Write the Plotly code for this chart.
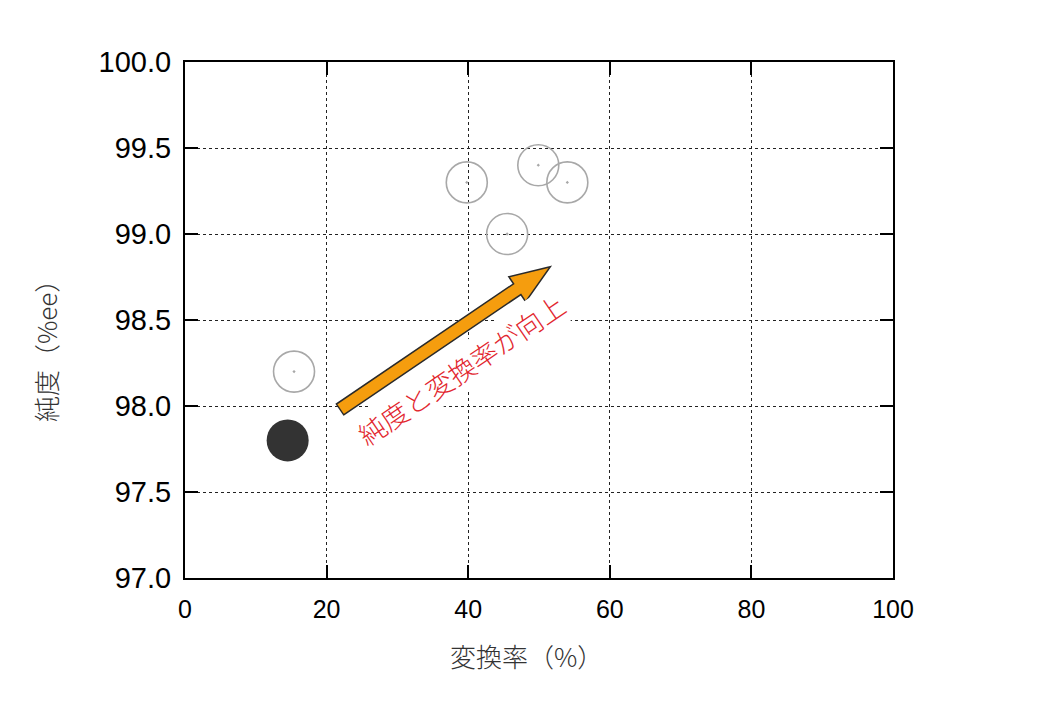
import math
import plotly.graph_objects as go

# ---- data ----
filled_x = [14.5]
filled_y = [97.8]
open_x = [15.4, 39.8, 45.5, 49.9, 54.0]
open_y = [98.2, 99.3, 99.0, 99.4, 99.3]

x_ticks = [0, 20, 40, 60, 80, 100]
y_ticks = [97.0, 97.5, 98.0, 98.5, 99.0, 99.5, 100.0]
y_tick_text = ["97.0", "97.5", "98.0", "98.5", "99.0", "99.5", "100.0"]

x_title = "変換率（%）"
y_title = "純度（%ee）"
note_text = "純度と変換率が向上"
arrow_start = (21.9, 97.98)
arrow_end = (51.6, 98.81)
note_pos = (39.0, 98.21)

# ---- layout geometry (page has an 8px body margin) ----
W, H = 1024, 695
L, R, T, B = 177, 139, 54, 125
pw, ph = W - L - R, H - T - B
xr, yr = (0, 100), (97, 100)


def to_px(x, y):
    return (L + (x - xr[0]) / (xr[1] - xr[0]) * pw,
            T + (yr[1] - y) / (yr[1] - yr[0]) * ph)


def to_data(px, py):
    return (xr[0] + (px - L) / pw * (xr[1] - xr[0]),
            yr[1] - (py - T) / ph * (yr[1] - yr[0]))


# arrow polygon built in pixel space
sx, sy = to_px(*arrow_start)
ex, ey = to_px(*arrow_end)
dx, dy = ex - sx, ey - sy
ln = math.hypot(dx, dy)
ux, uy = dx / ln, dy / ln
nx, ny = -uy, ux
bw, hw, hl = 6.5, 15.0, 40.0
bx, by = ex - ux * hl, ey - uy * hl
pts = [
    (sx + nx * bw, sy + ny * bw),
    (bx + nx * bw, by + ny * bw),
    (bx + nx * hw, by + ny * hw),
    (ex, ey),
    (bx - nx * hw, by - ny * hw),
    (bx - nx * bw, by - ny * bw),
    (sx - nx * bw, sy - ny * bw),
]
dpts = [to_data(*p) for p in pts]
path = "M " + " L ".join(f"{a:.4f},{b:.5f}" for a, b in dpts) + " Z"
angle = -math.degrees(math.atan2(-dy, dx))

fig = go.Figure()
fig.add_trace(go.Scatter(
    x=open_x, y=open_y, mode="markers",
    marker=dict(symbol="circle-open-dot", size=41, color="#a8a8a8",
                line=dict(width=1.6, color="#a8a8a8")),
    hoverinfo="skip", showlegend=False))
fig.add_trace(go.Scatter(
    x=filled_x, y=filled_y, mode="markers",
    marker=dict(symbol="circle", size=42, color="#333333",
                line=dict(width=0)),
    hoverinfo="skip", showlegend=False))

fig.add_shape(type="path", path=path, xref="x", yref="y",
              fillcolor="#f59d0e", line=dict(color="#2a2a2a", width=1.5),
              layer="above")

fig.add_annotation(x=note_pos[0], y=note_pos[1], xref="x", yref="y",
                   text=note_text, showarrow=False, textangle=angle,
                   bgcolor="white",
                   font=dict(family="Noto Sans CJK JP", size=27, color="#e2262e",
                             weight=300))

# axis titles placed as paper annotations
title_font = dict(family="Noto Sans CJK JP", size=26, color="#333333", weight=300)
fig.add_annotation(x=(526 - 8 - L) / pw, y=-(655 - 8 - (T + ph)) / ph,
                   xref="paper", yref="paper", text=x_title, showarrow=False,
                   xanchor="center", yanchor="middle", font=title_font)
fig.add_annotation(x=(45 - 8 - L) / pw, y=1 - (345 - 8 - T) / ph,
                   xref="paper", yref="paper", text=y_title, showarrow=False,
                   textangle=-90, xanchor="center", yanchor="middle",
                   font=title_font)

axis_common = dict(
    showline=True, linecolor="black", linewidth=2, mirror="ticks",
    ticks="inside", ticklen=13, tickwidth=2, tickcolor="black",
    showgrid=True, gridcolor="#222222", gridwidth=1, griddash="dot",
    zeroline=False,
)

fig.update_xaxes(range=list(xr), tickvals=x_ticks, ticklabelstandoff=8,
                 tickfont=dict(family="Liberation Sans", size=25, color="black"),
                 **axis_common)
fig.update_yaxes(range=list(yr), tickvals=y_ticks, ticktext=y_tick_text,
                 ticklabelstandoff=6,
                 tickfont=dict(family="Liberation Sans", size=29, color="black"),
                 **axis_common)

fig.update_layout(
    width=W, height=H,
    margin=dict(l=L, r=R, t=T, b=B, autoexpand=False),
    paper_bgcolor="white", plot_bgcolor="white",
)

fig.write_html("out.html")
